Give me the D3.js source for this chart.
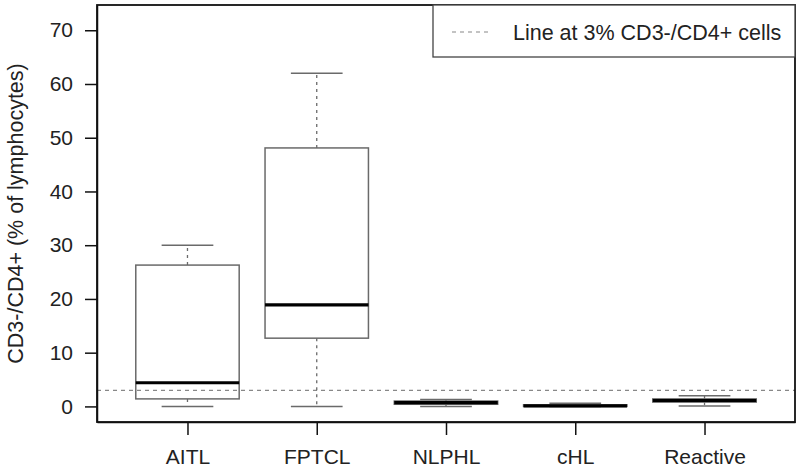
<!DOCTYPE html>
<html>
<head>
<meta charset="utf-8">
<script src="https://cdn.jsdelivr.net/npm/d3@7"></script>
<style>
  body { margin: 0; background: #fff; }
  text { font-family: "Liberation Sans", Arial, sans-serif; fill: #222; }
</style>
</head>
<body>
<div id="graphic"></div>
<script>
// data
const categories = ["AITL", "FPTCL", "NLPHL", "cHL", "Reactive"];
const mins    = [0,    0,    0,   0,   0.1];
const q1s     = [1.4,  12.7, 0.4, 0,   0.8];
const medians = [4.4,  18.9, 0.7, 0.1, 1.1];
const q3s     = [26.3, 48.1, 1.0, 0.3, 1.4];
const maxs    = [30.0, 62.0, 1.3, 0.6, 2.0];
const yTicks = [0, 10, 20, 30, 40, 50, 60, 70];
const cutoff = 3;
const legendLabel = "Line at 3% CD3-/CD4+ cells";
const yTitle = "CD3-/CD4+ (% of lymphocytes)";

const W = 800, H = 470;
const plot = { left: 97, right: 795, top: 5, bottom: 422 };

const svg = d3.select("#graphic")
    .append("svg")
    .attr("width", W)
    .attr("height", H);

const data = categories.map((c, i) => ({
    cat: c, pos: i + 1, min: mins[i], q1: q1s[i], med: medians[i], q3: q3s[i], max: maxs[i]
}));

// R style: xlim 0.5..5.5 extended 4%
const x = d3.scaleLinear().domain([0.3, 5.7]).range([plot.left, plot.right]);
const y = d3.scaleLinear().domain([-2.9, 74.7]).range([plot.bottom, plot.top]);

const boxHalf = 0.4, capHalf = 0.2;
const grey = "#6a6a6a";

// 3% reference line
svg.append("line")
    .attr("x1", plot.left).attr("x2", plot.right)
    .attr("y1", y(cutoff)).attr("y2", y(cutoff))
    .attr("stroke", "#888").attr("stroke-width", 1.2)
    .attr("stroke-dasharray", "4,4");

const g = svg.selectAll("g.box")
    .data(data)
    .join("g")
    .attr("class", "box");

// whiskers
g.append("line")
    .attr("x1", d => x(d.pos)).attr("x2", d => x(d.pos))
    .attr("y1", d => y(d.q3)).attr("y2", d => y(d.max))
    .attr("stroke", grey).attr("stroke-width", 1.3)
    .attr("stroke-dasharray", "3,4");
g.append("line")
    .attr("x1", d => x(d.pos)).attr("x2", d => x(d.pos))
    .attr("y1", d => y(d.q1)).attr("y2", d => y(d.min))
    .attr("stroke", grey).attr("stroke-width", 1.3)
    .attr("stroke-dasharray", "3,4");

// caps
["min", "max"].forEach(k => {
    g.append("line")
        .attr("x1", d => x(d.pos - capHalf)).attr("x2", d => x(d.pos + capHalf))
        .attr("y1", d => y(d[k])).attr("y2", d => y(d[k]))
        .attr("stroke", grey).attr("stroke-width", 1.5);
});

// boxes
g.append("rect")
    .attr("x", d => x(d.pos - boxHalf))
    .attr("width", d => x(d.pos + boxHalf) - x(d.pos - boxHalf))
    .attr("y", d => y(d.q3))
    .attr("height", d => y(d.q1) - y(d.q3))
    .attr("fill", "none")
    .attr("stroke", grey).attr("stroke-width", 1.5);

// medians
g.append("line")
    .attr("x1", d => x(d.pos - boxHalf)).attr("x2", d => x(d.pos + boxHalf))
    .attr("y1", d => y(d.med)).attr("y2", d => y(d.med))
    .attr("stroke", "#000").attr("stroke-width", 3.2);

// axes
const yAxis = svg.append("g")
    .attr("transform", `translate(${plot.left},0)`)
    .call(d3.axisLeft(y).tickValues(yTicks).tickSize(12).tickSizeOuter(0).tickPadding(12));
const xAxis = svg.append("g")
    .attr("transform", `translate(0,${plot.bottom})`)
    .call(d3.axisBottom(x).tickValues(data.map(d => d.pos))
        .tickFormat((d, i) => categories[i]).tickSize(13).tickSizeOuter(0).tickPadding(14));
[yAxis, xAxis].forEach(a => {
    a.selectAll("path, line").attr("stroke", "#111").attr("stroke-width", 1.5);
    a.selectAll("text").style("font-size", "21px").attr("fill", "#222");
});

// frame
svg.append("rect")
    .attr("x", plot.left).attr("y", plot.top)
    .attr("width", plot.right - plot.left).attr("height", plot.bottom - plot.top)
    .attr("fill", "none").attr("stroke", "#111").attr("stroke-width", 1.8);

// y title
svg.append("text")
    .attr("transform", `translate(23,${(plot.top + plot.bottom) / 2}) rotate(-90)`)
    .attr("text-anchor", "middle")
    .style("font-size", "21.5px")
    .text(yTitle);

// legend
const lg = svg.append("g");
lg.append("rect")
    .attr("x", 433).attr("y", plot.top)
    .attr("width", plot.right - 433).attr("height", 52)
    .attr("fill", "#fff").attr("stroke", "#444").attr("stroke-width", 1.3);
lg.append("line")
    .attr("x1", 452).attr("x2", 491).attr("y1", 32).attr("y2", 32)
    .attr("stroke", "#888").attr("stroke-width", 1.2).attr("stroke-dasharray", "4,4");
lg.append("text")
    .attr("x", 513).attr("y", 40)
    .style("font-size", "21.5px")
    .text(legendLabel);
</script>
</body>
</html>
